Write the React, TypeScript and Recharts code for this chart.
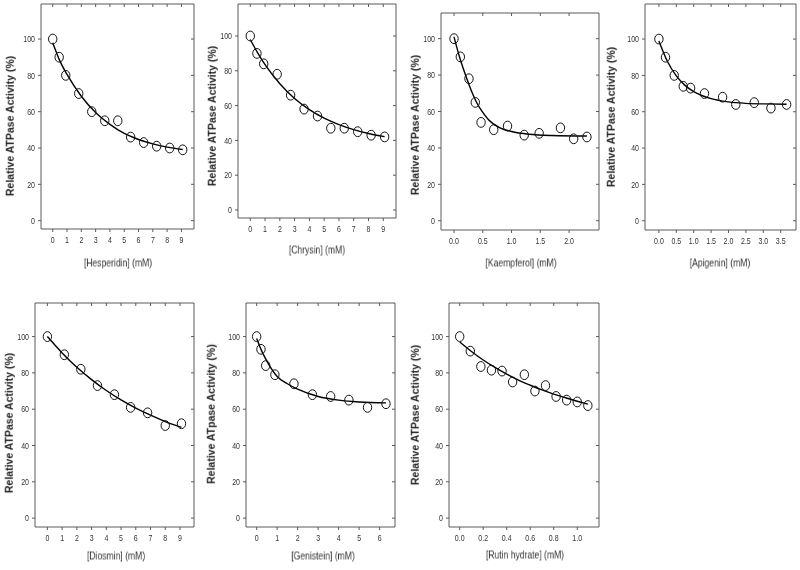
import React from 'react';
import { ComposedChart, Scatter, Line, XAxis, YAxis } from 'recharts';

// ---------- data ----------
const hesperidinConc = [0, 0.45, 0.91, 1.82, 2.73, 3.64, 4.55, 5.45, 6.36, 7.27, 8.18, 9.09];
const hesperidinActivity = [100, 90, 80, 70, 60, 55, 55, 46, 43, 41, 40, 39];
const hesperidinFitConc = [0, 0.5, 1, 2, 3, 4, 5, 6, 7, 8, 9.09];
const hesperidinFitActivity = [98, 88, 80.5, 68.5, 59.5, 53, 48, 44.7, 42.3, 40.5, 39.2];

const chrysinConc = [0, 0.45, 0.91, 1.82, 2.73, 3.64, 4.55, 5.45, 6.36, 7.27, 8.18, 9.09];
const chrysinActivity = [100, 90, 84, 78, 66, 58, 54, 47, 47, 45, 43, 42];
const chrysinFitConc = [0, 0.5, 1, 2, 3, 4, 5, 6, 7, 8, 9.09];
const chrysinFitActivity = [98, 90.3, 83.5, 72.6, 64.1, 57.7, 52.8, 49.1, 46.2, 44, 42.2];

const kaempferolConc = [0, 0.11, 0.26, 0.37, 0.47, 0.69, 0.93, 1.22, 1.48, 1.85, 2.08, 2.31];
const kaempferolActivity = [100, 90, 78, 65, 54, 50, 52, 47, 48, 51, 45, 46];
const kaempferolFitConc = [0, 0.1, 0.2, 0.3, 0.4, 0.5, 0.6, 0.8, 1.0, 1.3, 1.7, 2.31];
const kaempferolFitActivity = [101, 89.5, 80, 71.5, 64.5, 59.5, 55.5, 51, 49, 47.5, 46.8, 46.5];

const apigeninConc = [0, 0.19, 0.44, 0.7, 0.91, 1.31, 1.83, 2.21, 2.74, 3.22, 3.67];
const apigeninActivity = [100, 90, 80, 74, 73, 70, 68, 64, 65, 62, 64];
const apigeninFitConc = [0, 0.25, 0.5, 0.75, 1, 1.5, 2, 2.5, 3, 3.67];
const apigeninFitActivity = [99, 87.5, 79.7, 74.5, 71.1, 67.2, 65.4, 64.6, 64.3, 64.1];

const diosminConc = [0, 1.15, 2.27, 3.4, 4.55, 5.65, 6.8, 8.0, 9.1];
const diosminActivity = [100, 90, 82, 73, 68, 61, 58, 51, 52];
const diosminFitConc = [0, 1, 2, 3, 4, 5, 6, 7, 8, 9.1];
const diosminFitActivity = [100, 91, 83.1, 76.3, 70.3, 65.1, 60.6, 56.7, 53.2, 50];

const genisteinConc = [0, 0.21, 0.44, 0.89, 1.82, 2.72, 3.61, 4.5, 5.41, 6.31];
const genisteinActivity = [100, 93, 84, 79, 74, 68, 67, 65, 61, 63];
const genisteinFitConc = [0, 0.25, 0.5, 1, 1.5, 2, 3, 4, 5, 6.31];
const genisteinFitActivity = [99, 92, 86.5, 78, 74, 71, 67, 65, 64, 63.5];

const rutinConc = [0, 0.09, 0.18, 0.27, 0.36, 0.45, 0.55, 0.64, 0.73, 0.82, 0.91, 1.0, 1.09];
const rutinActivity = [100, 92, 83.5, 81.5, 81, 75, 79, 70, 73, 67, 65, 64, 62];
const rutinFitConc = [0, 0.1, 0.2, 0.3, 0.4, 0.5, 0.6, 0.7, 0.8, 0.9, 1.0, 1.09];
const rutinFitActivity = [97, 91.8, 87.1, 83, 79.3, 76, 73.2, 70.6, 68.3, 66.3, 64.4, 62.8];

const activityTicks = [0, 20, 40, 60, 80, 100];
const ticks0to9 = [0, 1, 2, 3, 4, 5, 6, 7, 8, 9];
const ticks0to6 = [0, 1, 2, 3, 4, 5, 6];
const ticksKaempferol = [0, 0.5, 1.0, 1.5, 2.0];
const ticksApigenin = [0, 0.5, 1.0, 1.5, 2.0, 2.5, 3.0, 3.5];
const ticksRutin = [0, 0.2, 0.4, 0.6, 0.8, 1.0];

const yLabelATPase = 'Relative ATPase Activity (%)';
const yLabelATpase = 'Relative ATpase Activity (%)';

// ---------- helpers ----------
const pairs = (xs: number[], ys: number[]) => xs.map((x, i) => ({ x, y: ys[i] }));

const FONT = "'Liberation Sans', Arial, sans-serif";
const FRAME = '#5a5a5a';
const TEXT = '#333';
const NARROW = 0.78;

const Ring = (props: any) => {
  const { cx, cy } = props;
  if (cx == null || cy == null) return null;
  return <ellipse cx={cx} cy={cy} rx={4.2} ry={4.9} fill="none" stroke="#111" strokeWidth={1} />;
};

const makeXTick = (decimals: number) => (props: any) => {
  const { x, y, payload } = props;
  return (
    <g transform={`translate(${x},${y})`}>
      <text
        transform={`scale(${NARROW},1)`}
        textAnchor="middle"
        dy="0.71em"
        fontSize={9}
        fontFamily={FONT}
        fill={TEXT}
      >
        {Number(payload.value).toFixed(decimals)}
      </text>
    </g>
  );
};

const YTick = (props: any) => {
  const { x, y, payload } = props;
  return (
    <g transform={`translate(${x},${y})`}>
      <text
        transform={`scale(${NARROW},1)`}
        textAnchor="end"
        dy="0.355em"
        fontSize={9}
        fontFamily={FONT}
        fill={TEXT}
      >
        {String(payload.value)}
      </text>
    </g>
  );
};

type Frame = { l: number; t: number; r: number; b: number };

type PanelProps = {
  frame: Frame;
  xDomain: [number, number];
  yDomain: [number, number];
  xTicks: number[];
  decimals: number;
  points: { x: number; y: number }[];
  fit: { x: number; y: number }[];
  xLabel: string;
  yLabel: string;
  xLabelPos: [number, number];
  yLabelPos: [number, number];
};

function Panel(p: PanelProps) {
  const L = 30;
  const B = 24;
  const T = 2;
  const R = 2;
  const w = p.frame.r - p.frame.l;
  const h = p.frame.b - p.frame.t;
  return (
    <>
      <div
        style={{
          position: 'absolute',
          left: p.frame.l - L,
          top: p.frame.t - T,
          willChange: 'transform',
        }}
      >
        <ComposedChart
          width={w + L + R}
          height={h + T + B}
          margin={{ top: T, right: R, bottom: 0, left: 0 }}
        >
          <XAxis
            type="number"
            dataKey="x"
            domain={p.xDomain}
            allowDataOverflow
            ticks={p.xTicks}
            interval={0}
            height={B}
            tickSize={3}
            tickMargin={5}
            tick={makeXTick(p.decimals)}
            axisLine={{ stroke: FRAME }}
            tickLine={{ stroke: FRAME }}
          />
          <XAxis
            xAxisId="top"
            orientation="top"
            mirror
            type="number"
            dataKey="x"
            domain={p.xDomain}
            allowDataOverflow
            ticks={p.xTicks}
            interval={0}
            tickFormatter={() => ''}
            tickSize={3}
            axisLine={{ stroke: FRAME }}
            tickLine={{ stroke: FRAME }}
          />
          <YAxis
            type="number"
            dataKey="y"
            domain={p.yDomain}
            allowDataOverflow
            ticks={activityTicks}
            interval={0}
            width={L}
            tickSize={3}
            tickMargin={3}
            tick={YTick}
            axisLine={{ stroke: FRAME }}
            tickLine={{ stroke: FRAME }}
          />
          <YAxis
            yAxisId="right"
            orientation="right"
            mirror
            type="number"
            domain={p.yDomain}
            allowDataOverflow
            ticks={activityTicks}
            interval={0}
            tickFormatter={() => ''}
            tickSize={3}
            axisLine={{ stroke: FRAME }}
            tickLine={{ stroke: FRAME }}
          />
          <Line
            data={p.fit}
            dataKey="y"
            type="monotone"
            dot={false}
            stroke="#000"
            strokeWidth={1.4}
            isAnimationActive={false}
          />
          <Scatter data={p.points} dataKey="y" shape={Ring} isAnimationActive={false} />
        </ComposedChart>
      </div>
      <div
        style={{
          position: 'absolute',
          left: p.xLabelPos[0],
          top: p.xLabelPos[1],
          transform: `translate(-50%, -50%) scaleX(${NARROW})`,
          whiteSpace: 'nowrap',
          fontFamily: FONT,
          fontSize: 11,
          color: TEXT,
          lineHeight: 1,
          willChange: 'transform',
        }}
      >
        {p.xLabel}
      </div>
      <div
        style={{
          position: 'absolute',
          left: p.yLabelPos[0],
          top: p.yLabelPos[1],
          transform: 'translate(-50%, -50%) rotate(-90deg)',
          whiteSpace: 'nowrap',
          fontFamily: FONT,
          fontWeight: 'bold',
          fontSize: 10.5,
          color: '#222',
          lineHeight: 1,
        }}
      >
        {p.yLabel}
      </div>
    </>
  );
}

export default function App() {
  return (
    <div
      style={{
        position: 'absolute',
        left: 0,
        top: 0,
        width: 800,
        height: 570,
        background: '#fff',
        overflow: 'hidden',
      }}
    >
      <Panel
        frame={{ l: 41, t: 4, r: 194, b: 229 }}
        xDomain={[-0.82, 9.88]}
        yDomain={[-4.6, 119.3]}
        xTicks={ticks0to9}
        decimals={0}
        points={pairs(hesperidinConc, hesperidinActivity)}
        fit={pairs(hesperidinFitConc, hesperidinFitActivity)}
        xLabel="[Hesperidin] (mM)"
        yLabel={yLabelATPase}
        xLabelPos={[117.5, 262.5]}
        yLabelPos={[10, 125.5]}
      />
      <Panel
        frame={{ l: 238, t: 4, r: 396, b: 218 }}
        xDomain={[-0.83, 9.86]}
        yDomain={[-4.6, 118.4]}
        xTicks={ticks0to9}
        decimals={0}
        points={pairs(chrysinConc, chrysinActivity)}
        fit={pairs(chrysinFitConc, chrysinFitActivity)}
        xLabel="[Chrysin] (mM)"
        yLabel={yLabelATPase}
        xLabelPos={[317, 250]}
        yLabelPos={[212, 116]}
      />
      <Panel
        frame={{ l: 441, t: 13, r: 599, b: 230 }}
        xDomain={[-0.226, 2.52]}
        yDomain={[-5.1, 114.1]}
        xTicks={ticksKaempferol}
        decimals={1}
        points={pairs(kaempferolConc, kaempferolActivity)}
        fit={pairs(kaempferolFitConc, kaempferolFitActivity)}
        xLabel="[Kaempferol] (mM)"
        yLabel={yLabelATPase}
        xLabelPos={[521, 263]}
        yLabelPos={[414.7, 125]}
      />
      <Panel
        frame={{ l: 645, t: 4, r: 796, b: 230 }}
        xDomain={[-0.4, 3.94]}
        yDomain={[-5.1, 119.3]}
        xTicks={ticksApigenin}
        decimals={1}
        points={pairs(apigeninConc, apigeninActivity)}
        fit={pairs(apigeninFitConc, apigeninFitActivity)}
        xLabel="[Apigenin] (mM)"
        yLabel={yLabelATPase}
        xLabelPos={[720, 263]}
        yLabelPos={[611, 117]}
      />
      <Panel
        frame={{ l: 35, t: 303, r: 194, b: 527 }}
        xDomain={[-0.84, 9.95]}
        yDomain={[-4.9, 118.5]}
        xTicks={ticks0to9}
        decimals={0}
        points={pairs(diosminConc, diosminActivity)}
        fit={pairs(diosminFitConc, diosminFitActivity)}
        xLabel="[Diosmin] (mM)"
        yLabel={yLabelATPase}
        xLabelPos={[116, 556]}
        yLabelPos={[9.3, 423]}
      />
      <Panel
        frame={{ l: 246, t: 303, r: 395, b: 527 }}
        xDomain={[-0.52, 6.75]}
        yDomain={[-4.9, 118.5]}
        xTicks={ticks0to6}
        decimals={0}
        points={pairs(genisteinConc, genisteinActivity)}
        fit={pairs(genisteinFitConc, genisteinFitActivity)}
        xLabel="[Genistein] (mM)"
        yLabel={yLabelATpase}
        xLabelPos={[323, 556]}
        yLabelPos={[211.3, 414]}
      />
      <Panel
        frame={{ l: 449, t: 303, r: 599, b: 527 }}
        xDomain={[-0.091, 1.185]}
        yDomain={[-4.9, 118.5]}
        xTicks={ticksRutin}
        decimals={1}
        points={pairs(rutinConc, rutinActivity)}
        fit={pairs(rutinFitConc, rutinFitActivity)}
        xLabel="[Rutin hydrate] (mM)"
        yLabel={yLabelATPase}
        xLabelPos={[524.8, 555]}
        yLabelPos={[414.7, 415]}
      />
    </div>
  );
}
